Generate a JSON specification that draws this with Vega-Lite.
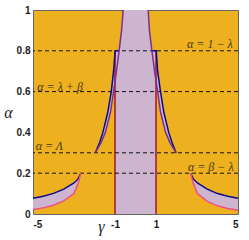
{
  "$schema": "https://vega.github.io/schema/vega-lite/v6.json",
  "autosize": {"type": "none"},
  "padding": {"left": 33, "top": 10, "right": 11, "bottom": 26},
  "width": 205,
  "height": 204,
  "background": "white",
  "config": {
    "view": {"fill": "#EDB120", "stroke": "#666", "strokeWidth": 1},
    "axis": {"grid": false, "ticks": false, "domain": false, "labelFont": "Liberation Sans", "labelFontWeight": "bold", "labelFontSize": 10, "labelColor": "#222", "titleFont": "Liberation Serif", "titleFontStyle": "italic", "titleFontWeight": "normal", "titleColor": "#222"}
  },
  "datasets": {
    "central": [
      {"a": 0, "xl": -1, "xr": 1},
      {"a": 0.65, "xl": -1, "xr": 1},
      {"a": 0.7, "xl": -0.93, "xr": 0.93},
      {"a": 0.8, "xl": -0.8, "xr": 0.8},
      {"a": 0.9, "xl": -0.68, "xr": 0.68},
      {"a": 1.0, "xl": -0.6, "xr": 0.62}
    ],
    "upper": [
      {"side": "L", "a": 0.3, "xb": -1.96, "xp": -1.96},
      {"side": "L", "a": 0.35, "xb": -1.75, "xp": -1.68},
      {"side": "L", "a": 0.4, "xb": -1.59, "xp": -1.47},
      {"side": "L", "a": 0.5, "xb": -1.35, "xp": -1.22},
      {"side": "L", "a": 0.6, "xb": -1.18, "xp": -1.07},
      {"side": "L", "a": 0.7, "xb": -1.07, "xp": -0.93},
      {"side": "L", "a": 0.8, "xb": -0.99, "xp": -0.8},
      {"side": "R", "a": 0.3, "xb": 1.98, "xp": 1.98},
      {"side": "R", "a": 0.35, "xb": 1.78, "xp": 1.68},
      {"side": "R", "a": 0.4, "xb": 1.62, "xp": 1.47},
      {"side": "R", "a": 0.5, "xb": 1.38, "xp": 1.22},
      {"side": "R", "a": 0.6, "xb": 1.22, "xp": 1.08},
      {"side": "R", "a": 0.7, "xb": 1.08, "xp": 0.93},
      {"side": "R", "a": 0.8, "xb": 1.01, "xp": 0.8}
    ],
    "lower": [
      {"side": "L", "g": -5, "ab": 0.077, "ap": 0.022},
      {"side": "L", "g": -4.5, "ab": 0.087, "ap": 0.03},
      {"side": "L", "g": -4, "ab": 0.101, "ap": 0.043},
      {"side": "L", "g": -3.5, "ab": 0.122, "ap": 0.064},
      {"side": "L", "g": -3, "ab": 0.152, "ap": 0.1},
      {"side": "L", "g": -2.9, "ab": 0.16, "ap": 0.125},
      {"side": "L", "g": -2.8, "ab": 0.172, "ap": 0.15},
      {"side": "L", "g": -2.67, "ab": 0.2, "ap": 0.2},
      {"side": "R", "g": 2.69, "ab": 0.2, "ap": 0.2},
      {"side": "R", "g": 2.82, "ab": 0.172, "ap": 0.15},
      {"side": "R", "g": 2.92, "ab": 0.16, "ap": 0.125},
      {"side": "R", "g": 3.02, "ab": 0.152, "ap": 0.1},
      {"side": "R", "g": 3.5, "ab": 0.122, "ap": 0.062},
      {"side": "R", "g": 4, "ab": 0.1, "ap": 0.04},
      {"side": "R", "g": 4.5, "ab": 0.087, "ap": 0.027},
      {"side": "R", "g": 5, "ab": 0.077, "ap": 0.018}
    ],
    "lines": [
      {"s": "bLL", "c": "blue", "k": 1, "g": -5, "a": 0.077},
      {"s": "bLL", "c": "blue", "k": 2, "g": -4.5, "a": 0.087},
      {"s": "bLL", "c": "blue", "k": 3, "g": -4, "a": 0.101},
      {"s": "bLL", "c": "blue", "k": 4, "g": -3.5, "a": 0.122},
      {"s": "bLL", "c": "blue", "k": 5, "g": -3, "a": 0.152},
      {"s": "bLL", "c": "blue", "k": 6, "g": -2.8, "a": 0.172},
      {"s": "bLL", "c": "blue", "k": 7, "g": -2.67, "a": 0.2},
      {"s": "pLL", "c": "pink", "k": 1, "g": -5, "a": 0.022},
      {"s": "pLL", "c": "pink", "k": 2, "g": -4.5, "a": 0.03},
      {"s": "pLL", "c": "pink", "k": 3, "g": -4, "a": 0.043},
      {"s": "pLL", "c": "pink", "k": 4, "g": -3.5, "a": 0.064},
      {"s": "pLL", "c": "pink", "k": 5, "g": -3, "a": 0.1},
      {"s": "pLL", "c": "pink", "k": 6, "g": -2.9, "a": 0.125},
      {"s": "pLL", "c": "pink", "k": 7, "g": -2.8, "a": 0.15},
      {"s": "pLL", "c": "pink", "k": 8, "g": -2.67, "a": 0.2},
      {"s": "bLR", "c": "blue", "k": 1, "g": 2.69, "a": 0.2},
      {"s": "bLR", "c": "blue", "k": 2, "g": 2.82, "a": 0.172},
      {"s": "bLR", "c": "blue", "k": 3, "g": 3.02, "a": 0.152},
      {"s": "bLR", "c": "blue", "k": 4, "g": 3.5, "a": 0.122},
      {"s": "bLR", "c": "blue", "k": 5, "g": 4, "a": 0.1},
      {"s": "bLR", "c": "blue", "k": 6, "g": 4.5, "a": 0.087},
      {"s": "bLR", "c": "blue", "k": 7, "g": 5, "a": 0.077},
      {"s": "pLR", "c": "pink", "k": 1, "g": 2.69, "a": 0.2},
      {"s": "pLR", "c": "pink", "k": 2, "g": 2.82, "a": 0.15},
      {"s": "pLR", "c": "pink", "k": 3, "g": 2.92, "a": 0.125},
      {"s": "pLR", "c": "pink", "k": 4, "g": 3.02, "a": 0.1},
      {"s": "pLR", "c": "pink", "k": 5, "g": 3.5, "a": 0.062},
      {"s": "pLR", "c": "pink", "k": 6, "g": 4, "a": 0.04},
      {"s": "pLR", "c": "pink", "k": 7, "g": 4.5, "a": 0.027},
      {"s": "pLR", "c": "pink", "k": 8, "g": 5, "a": 0.018},
      {"s": "bUL", "c": "blue", "k": 1, "g": -1.96, "a": 0.3},
      {"s": "bUL", "c": "blue", "k": 2, "g": -1.75, "a": 0.35},
      {"s": "bUL", "c": "blue", "k": 3, "g": -1.59, "a": 0.4},
      {"s": "bUL", "c": "blue", "k": 4, "g": -1.35, "a": 0.5},
      {"s": "bUL", "c": "blue", "k": 5, "g": -1.18, "a": 0.6},
      {"s": "bUL", "c": "blue", "k": 6, "g": -1.07, "a": 0.7},
      {"s": "bUL", "c": "blue", "k": 7, "g": -0.99, "a": 0.8},
      {"s": "bUL", "c": "blue", "k": 8, "g": -0.8, "a": 0.8},
      {"s": "bUR", "c": "blue", "k": 1, "g": 1.98, "a": 0.3},
      {"s": "bUR", "c": "blue", "k": 2, "g": 1.78, "a": 0.35},
      {"s": "bUR", "c": "blue", "k": 3, "g": 1.62, "a": 0.4},
      {"s": "bUR", "c": "blue", "k": 4, "g": 1.38, "a": 0.5},
      {"s": "bUR", "c": "blue", "k": 5, "g": 1.22, "a": 0.6},
      {"s": "bUR", "c": "blue", "k": 6, "g": 1.08, "a": 0.7},
      {"s": "bUR", "c": "blue", "k": 7, "g": 1.01, "a": 0.8},
      {"s": "bUR", "c": "blue", "k": 8, "g": 0.8, "a": 0.8},
      {"s": "uUL", "c": "purple", "k": 1, "g": -1.96, "a": 0.3},
      {"s": "uUL", "c": "purple", "k": 2, "g": -1.68, "a": 0.35},
      {"s": "uUL", "c": "purple", "k": 3, "g": -1.47, "a": 0.4},
      {"s": "uUL", "c": "purple", "k": 4, "g": -1.22, "a": 0.5},
      {"s": "uUL", "c": "purple", "k": 5, "g": -1.07, "a": 0.6},
      {"s": "uUL", "c": "purple", "k": 6, "g": -0.93, "a": 0.7},
      {"s": "uUL", "c": "purple", "k": 7, "g": -0.8, "a": 0.8},
      {"s": "uUL", "c": "purple", "k": 8, "g": -0.68, "a": 0.9},
      {"s": "uUL", "c": "purple", "k": 9, "g": -0.6, "a": 1.0},
      {"s": "uUR", "c": "purple", "k": 1, "g": 1.98, "a": 0.3},
      {"s": "uUR", "c": "purple", "k": 2, "g": 1.68, "a": 0.35},
      {"s": "uUR", "c": "purple", "k": 3, "g": 1.47, "a": 0.4},
      {"s": "uUR", "c": "purple", "k": 4, "g": 1.22, "a": 0.5},
      {"s": "uUR", "c": "purple", "k": 5, "g": 1.08, "a": 0.6},
      {"s": "uUR", "c": "purple", "k": 6, "g": 0.93, "a": 0.7},
      {"s": "uUR", "c": "purple", "k": 7, "g": 0.8, "a": 0.8},
      {"s": "uUR", "c": "purple", "k": 8, "g": 0.68, "a": 0.9},
      {"s": "uUR", "c": "purple", "k": 9, "g": 0.62, "a": 1.0}
    ],
    "reds": [
      {"g": -1, "a0": 0, "a1": 0.8},
      {"g": 1, "a0": 0, "a1": 0.8}
    ],
    "dashes": [
      {"a": 0.8}, {"a": 0.6}, {"a": 0.3}, {"a": 0.2}
    ],
    "labels": [
      {"g": 3.63, "a": 0.835, "t": "α = 1 − λ"},
      {"g": -3.68, "a": 0.625, "t": "α = λ + β"},
      {"g": -4.2, "a": 0.333, "t": "α = Λ"},
      {"g": 3.67, "a": 0.228, "t": "α = β − λ"}
    ]
  },
  "layer": [
    {
      "data": {"name": "central"},
      "mark": {"type": "area", "orient": "horizontal", "color": "#CDB4CF"},
      "encoding": {
        "y": {"field": "a", "type": "quantitative", "scale": {"domain": [0, 1], "nice": false}, "axis": {"values": [0, 0.2, 0.4, 0.6, 0.8, 1], "labelExpr": "'' + datum.value", "title": "α", "titleAngle": 0, "titleFontSize": 16, "titleX": -25, "titleY": 102, "titleAlign": "center", "titleBaseline": "middle", "labelPadding": 3}},
        "x": {"field": "xl", "type": "quantitative", "scale": {"domain": [-5, 5], "nice": false, "zero": false}, "axis": {"values": [-5, -1, 1, 5], "labelExpr": "'' + datum.value", "title": "γ", "titleFontSize": 16, "titleX": 68, "titleY": 17, "titleAlign": "center", "titleBaseline": "alphabetic", "labelPadding": 5}},
        "x2": {"field": "xr"}
      }
    },
    {
      "data": {"name": "upper"},
      "mark": {"type": "area", "orient": "horizontal", "color": "#CDB4CF"},
      "encoding": {
        "y": {"field": "a", "type": "quantitative"},
        "x": {"field": "xb", "type": "quantitative"},
        "x2": {"field": "xp"},
        "detail": {"field": "side"}
      }
    },
    {
      "data": {"name": "lower"},
      "mark": {"type": "area", "color": "#CDB4CF"},
      "encoding": {
        "x": {"field": "g", "type": "quantitative"},
        "y": {"field": "ab", "type": "quantitative"},
        "y2": {"field": "ap"},
        "detail": {"field": "side"}
      }
    },
    {
      "data": {"name": "reds"},
      "mark": {"type": "rule", "color": "#A2142F", "strokeWidth": 1.5},
      "encoding": {
        "x": {"field": "g", "type": "quantitative"},
        "y": {"field": "a0", "type": "quantitative"},
        "y2": {"field": "a1"}
      }
    },
    {
      "data": {"name": "dashes"},
      "mark": {"type": "rule", "color": "#111", "strokeWidth": 1, "strokeDash": [4, 3]},
      "encoding": {
        "y": {"field": "a", "type": "quantitative"}
      }
    },
    {
      "data": {"name": "lines"},
      "mark": {"type": "line", "strokeWidth": 1.5},
      "encoding": {
        "x": {"field": "g", "type": "quantitative"},
        "y": {"field": "a", "type": "quantitative"},
        "order": {"field": "k", "type": "quantitative"},
        "detail": {"field": "s"},
        "color": {"field": "c", "type": "nominal", "scale": {"domain": ["blue", "pink", "purple"], "range": ["#0A0A8A", "#EE4F84", "#7E2F8E"]}, "legend": null}
      }
    },
    {
      "data": {"name": "labels"},
      "mark": {"type": "text", "font": "Liberation Serif", "fontStyle": "italic", "fontSize": 12, "color": "#4A3A10", "baseline": "middle", "align": "center"},
      "encoding": {
        "x": {"field": "g", "type": "quantitative"},
        "y": {"field": "a", "type": "quantitative"},
        "text": {"field": "t"}
      }
    }
  ]
}
